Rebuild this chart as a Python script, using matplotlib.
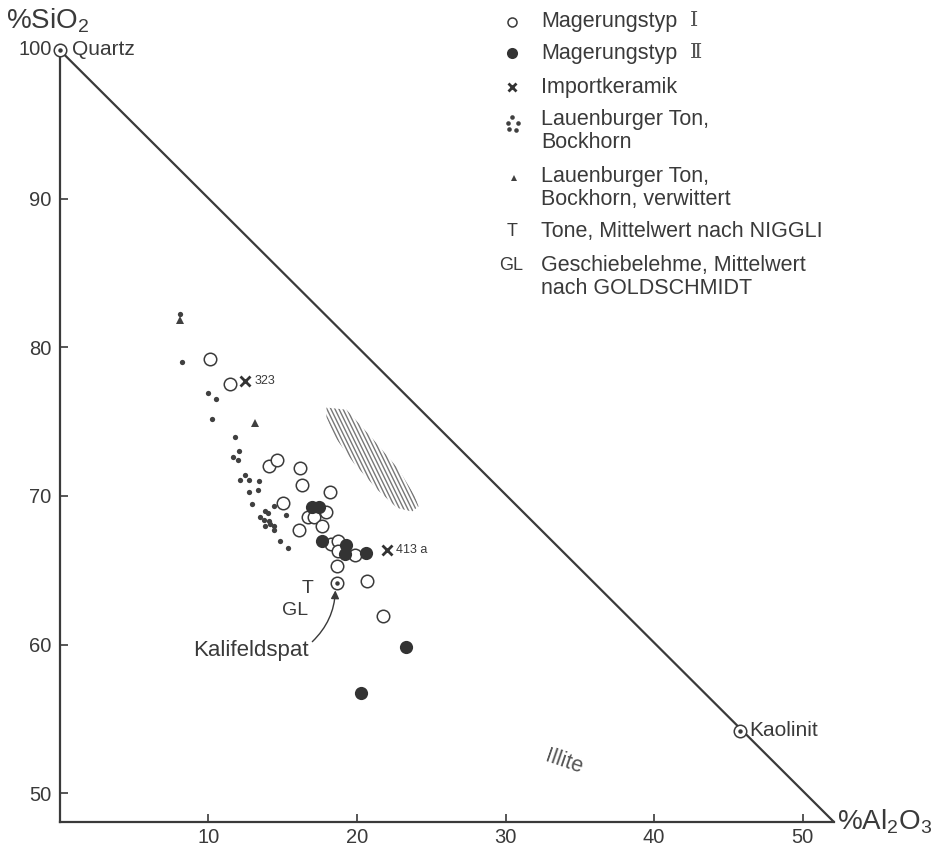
import numpy as np
import matplotlib
matplotlib.use('Agg')
import matplotlib.pyplot as plt
from matplotlib.patches import Polygon

plt.rcParams['font.family'] = ['Liberation Sans', 'DejaVu Sans']
plt.rcParams['mathtext.fontset'] = 'custom'
plt.rcParams['mathtext.rm'] = 'Liberation Sans'
plt.rcParams['mathtext.it'] = 'Liberation Sans:italic'
plt.rcParams['mathtext.bf'] = 'Liberation Sans:bold'

ink = '#3a3a3a'

# Magerungstyp I (offene Kreise): %Al2O3 / %SiO2
typ1_al = [10.09, 11.44, 14.07, 14.63, 15.01, 16.10, 16.16, 16.32, 18.16, 17.89,
           16.70, 17.10, 17.67, 18.23, 18.72, 18.72, 19.87, 18.68, 20.65, 21.78]
typ1_si = [79.23, 77.55, 71.99, 72.44, 69.52, 67.68, 71.87, 70.71, 70.26, 68.91,
           68.57, 68.57, 67.95, 66.78, 67.00, 66.29, 66.00, 65.26, 64.25, 61.96]

# Magerungstyp II (volle Kreise)
typ2_al = [16.95, 17.44, 17.62, 19.29, 19.17, 20.59, 23.28, 20.30]
typ2_si = [69.25, 69.25, 66.96, 66.67, 66.11, 66.15, 59.83, 56.73]

# Importkeramik
imp_al = [12.50, 22.00]
imp_si = [77.73, 66.38]
imp_lab = ['323', '413 a']

# Lauenburger Ton, Bockhorn
ton_al = [8.11, 8.22, 9.95, 10.52, 10.27, 11.82, 12.07, 11.67, 11.98, 12.11,
          12.45, 12.76, 13.44, 12.74, 13.33, 12.97, 14.40, 15.24, 13.84, 14.00,
          13.50, 13.73, 14.07, 13.84, 14.18, 14.45, 14.40, 14.85, 15.33]
ton_si = [82.26, 79.00, 76.92, 76.51, 75.15, 74.00, 73.04, 72.61, 72.44, 71.09,
          71.38, 71.09, 71.00, 70.30, 70.37, 69.47, 69.34, 68.69, 68.98, 68.84,
          68.57, 68.40, 68.35, 68.01, 68.13, 68.01, 67.68, 66.96, 66.51]

# Lauenburger Ton, Bockhorn, verwittert
verw_al = [8.11, 13.12]
verw_si = [81.81, 74.90]

# Minerale (Kreis mit Punkt)
quartz = (0.0, 100.0)
kaolinit = (45.8, 54.2)
kalifeldspat = (18.63, 64.16)
apex = (52.1, 48.07)

# schraffiertes Feld
band_al = [17.95, 19.30, 21.10, 22.80, 23.90, 24.15, 23.70, 22.70, 21.40, 19.80, 18.50, 17.95]
band_si = [75.95, 75.80, 73.80, 71.80, 70.00, 69.30, 68.95, 69.20, 70.40, 72.20, 74.00, 75.30]

xticks = [10, 20, 30, 40, 50]
yticks = [50, 60, 70, 80, 90]

fig = plt.figure(figsize=(9.34, 8.48), dpi=100)
ax = fig.add_axes([0.0639, 0.03066, 0.8290, 0.9104])
ax.set_xlim(0, apex[0])
ax.set_ylim(apex[1], quartz[1])
for s in ['top', 'right']:
    ax.spines[s].set_visible(False)
for s in ['left', 'bottom']:
    ax.spines[s].set_linewidth(1.6)
    ax.spines[s].set_color(ink)
ax.set_xticks(xticks)
ax.set_yticks(yticks)
ax.tick_params(direction='in', length=6, width=1.2, color=ink, labelcolor=ink, labelsize=14.5)
ax.tick_params(axis='y', pad=6)
ax.tick_params(axis='x', pad=4)

# Dreieck
ax.plot([quartz[0], apex[0]], [quartz[1], apex[1]], color=ink, lw=1.6, clip_on=False, solid_capstyle='round')

# schraffur
band = Polygon(np.column_stack([band_al, band_si]), closed=True, fill=False, lw=0, edgecolor='none')
ax.add_patch(band)
ang = np.deg2rad(64)
t = np.array([-8.0, 8.0])
for x0 in np.arange(15, 28, 0.27):
    ln, = ax.plot(x0 + t * np.cos(ang), 72 - t * np.sin(ang), color='#777777', lw=1.0)
    ln.set_clip_path(band)

# Punkte
ax.plot(ton_al, ton_si, 'o', ms=3.8, color='#404040', mew=0, zorder=3)
ax.plot(verw_al, verw_si, '^', ms=5.5, color='#404040', mew=0, zorder=3)
ax.plot(typ1_al, typ1_si, 'o', ms=9, mfc='white', mec=ink, mew=1.1, zorder=4)
ax.plot(typ2_al, typ2_si, 'o', ms=9.5, color='#333333', mew=0, zorder=5)
ax.plot(imp_al, imp_si, 'x', ms=6.5, mew=2, color='#333333', zorder=5)
for xa, ya, lab in zip(imp_al, imp_si, imp_lab):
    ax.text(xa + 0.62, ya, lab, fontsize=9, color=ink, va='center', ha='left')

mins = [quartz, kaolinit, kalifeldspat]
ax.plot([m[0] for m in mins], [m[1] for m in mins], 'o', ms=9, mfc='white', mec=ink, mew=1.1,
        zorder=6, clip_on=False)
ax.plot([m[0] for m in mins], [m[1] for m in mins], 'o', ms=2.2, color=ink, zorder=7, clip_on=False)

ax.text(quartz[0] - 0.55, quartz[1], '100', fontsize=14.5, color=ink, ha='right', va='center')
ax.text(quartz[0] + 0.8, quartz[1], 'Quartz', fontsize=15, color=ink, ha='left', va='center')
ax.text(kaolinit[0] + 0.6, kaolinit[1], 'Kaolinit', fontsize=15, color=ink, ha='left', va='center')
ax.text(16.66, 63.8, 'T', fontsize=14, color=ink, ha='center', va='center')
ax.text(15.87, 62.3, 'GL', fontsize=14, color=ink, ha='center', va='center')
ax.text(16.75, 59.6, 'Kalifeldspat', fontsize=16, color=ink, ha='right', va='center')
ax.annotate('', xy=(18.55, 63.65), xytext=(17.0, 60.2),
            arrowprops=dict(arrowstyle='-|>', color=ink, lw=1, mutation_scale=12,
                            connectionstyle='arc3,rad=0.2', shrinkA=0, shrinkB=0))
ax.text(33.9, 52.07, 'Illite', fontsize=15.5, color='#555555', ha='center', va='center', rotation=-19)

# Ueberlagerung in Pixelkoordinaten fuer Achsentitel und Legende
ov = fig.add_axes([0, 0, 1, 1], facecolor='none')
ov.set_xlim(0, 934)
ov.set_ylim(848, 0)
ov.axis('off')
ov.text(6, 21, r'%SiO$_2$', fontsize=20, color=ink, ha='left', va='center')
ov.text(837, 822, r'%Al$_2$O$_3$', fontsize=20, color=ink, ha='left', va='center')

mx, tx = 512, 541
lfs = 15.5
ov.plot(mx, 22, 'o', ms=6.5, mfc='white', mec=ink, mew=1.1)
ov.text(tx, 22, 'Magerungstyp', fontsize=lfs, color=ink, va='center')
ov.text(690, 21, 'Ⅰ', fontsize=15, color='#555555', va='center', family=['DejaVu Serif'])
ov.plot(mx, 53, 'o', ms=8, color='#333333', mew=0)
ov.text(tx, 53, 'Magerungstyp', fontsize=lfs, color=ink, va='center')
ov.text(690, 52, 'Ⅱ', fontsize=15, color='#555555', va='center', family=['DejaVu Serif'])
ov.plot(mx, 87, 'x', ms=5.5, mew=2, color='#333333')
ov.text(tx, 87, 'Importkeramik', fontsize=lfs, color=ink, va='center')
ov.plot([511.5, 507.5, 517.5, 508.5, 515.5], [117, 123, 122.5, 128.5, 129.5], 'o', ms=3.3, color='#404040', mew=0)
ov.text(tx, 131, 'Lauenburger Ton,\nBockhorn', fontsize=lfs, color=ink, va='center', linespacing=1.1)
ov.plot(mx + 2, 178, '^', ms=5, color='#404040', mew=0)
ov.text(tx, 188, 'Lauenburger Ton,\nBockhorn, verwittert', fontsize=lfs, color=ink, va='center', linespacing=1.1)
ov.text(mx, 232, 'T', fontsize=13, color=ink, ha='center', va='center')
ov.text(tx, 232, 'Tone, Mittelwert nach NIGGLI', fontsize=lfs, color=ink, va='center')
ov.text(mx - 1, 265, 'GL', fontsize=13, color=ink, ha='center', va='center')
ov.text(tx, 277, 'Geschiebelehme, Mittelwert\nnach GOLDSCHMIDT', fontsize=lfs, color=ink, va='center', linespacing=1.1)

fig.savefig('out.png', dpi=100)
